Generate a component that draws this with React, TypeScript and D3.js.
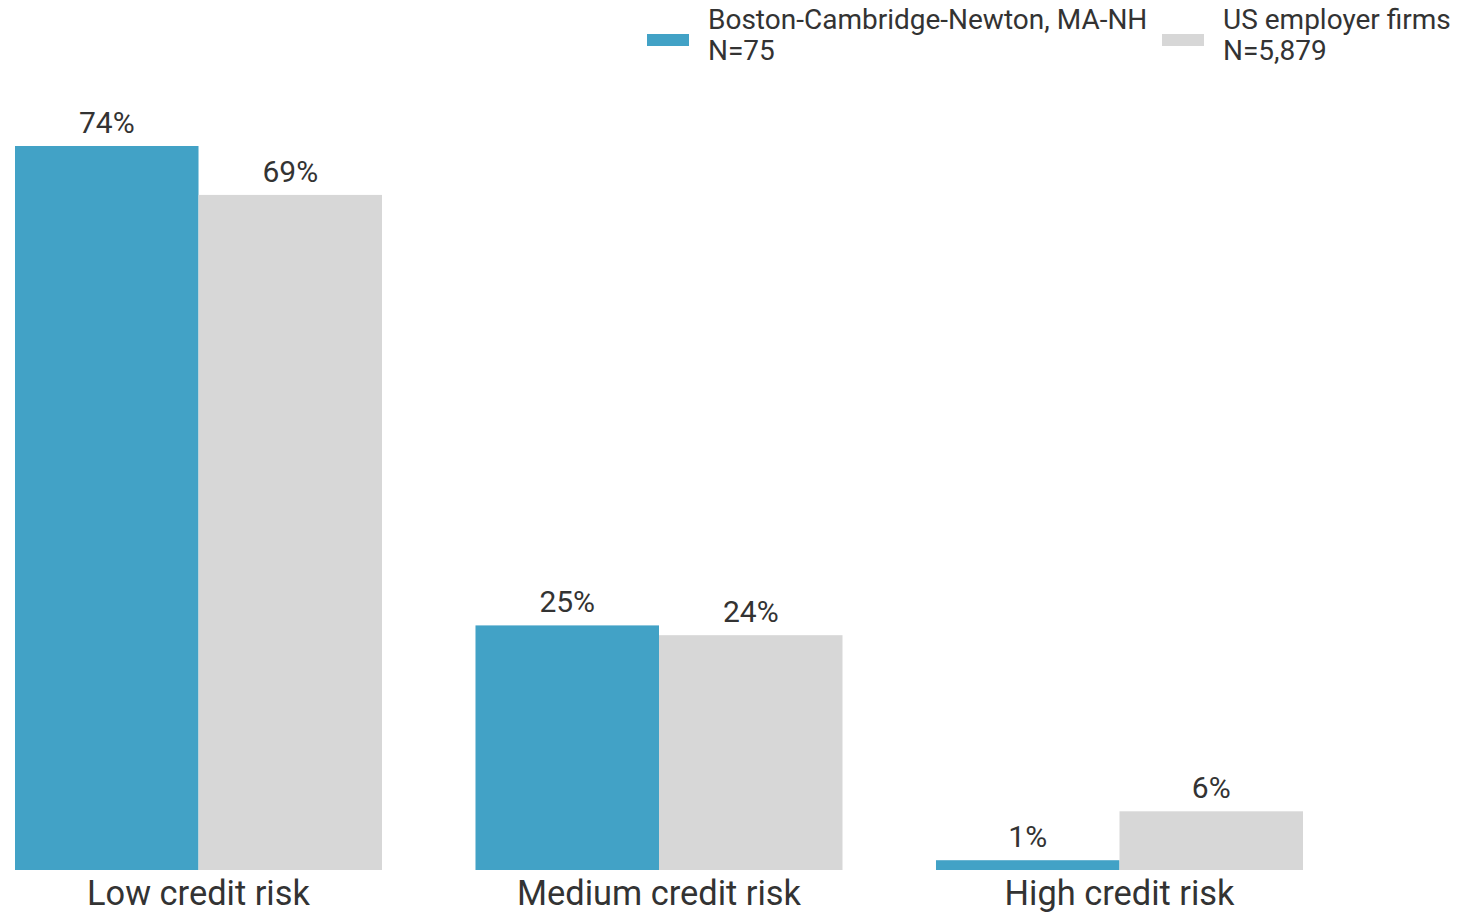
import React from "react";
import * as d3 from "d3";

const categories = ["Low credit risk", "Medium credit risk", "High credit risk"];
const seriesNames = ["Boston-Cambridge-Newton, MA-NH", "US employer firms"];
const seriesN = ["N=75", "N=5,879"];
const bostonValues = [74, 25, 1];
const usValues = [69, 24, 6];
const colors = ["#42A2C6", "#D7D7D7"];

const W = 1460;
const H = 914;
const FONT = "Roboto, 'Noto Sans', sans-serif";
const TEXT = "#333333";

export default function App() {
  const x0 = d3.scaleBand<string>().domain(categories).range([15, 1303]).paddingInner(0.203).paddingOuter(0);
  const x1 = d3.scaleBand<number>().domain([0, 1]).range([0, x0.bandwidth()]).padding(0);
  const y = d3.scaleLinear().domain([0, 74]).range([870, 146]);
  const series = [bostonValues, usValues];

  const legendX = [647, 1162];

  return (
    <div style={{ position: "absolute", left: 0, top: 0 }}>
      <svg width={W} height={H} style={{ display: "block", background: "#fff" }}>
        {categories.map((c, i) => (
          <g key={c}>
            {series.map((vals, s) => {
              const bx = (x0(c) as number) + (x1(s) as number);
              const bw = x1.bandwidth();
              const v = vals[i];
              return (
                <g key={s}>
                  <rect x={bx} y={y(v)} width={bw} height={y(0) - y(v)} fill={colors[s]} />
                  <text
                    x={bx + bw / 2}
                    y={y(v) - 13}
                    textAnchor="middle"
                    fontFamily={FONT}
                    fontSize={30}
                    fill={TEXT}
                  >
                    {d3.format("d")(v)}%
                  </text>
                </g>
              );
            })}
            <text
              x={(x0(c) as number) + x0.bandwidth() / 2}
              y={905}
              textAnchor="middle"
              fontFamily={FONT}
              fontSize={34.4}
              fill={TEXT}
            >
              {c}
            </text>
          </g>
        ))}
        {seriesNames.map((n, s) => (
          <g key={n}>
            <rect x={legendX[s]} y={34} width={42} height={12} fill={colors[s]} />
            <text x={legendX[s] + 61} y={29} fontFamily={FONT} fontSize={28} fill={TEXT}>
              {n}
            </text>
            <text x={legendX[s] + 61} y={60} fontFamily={FONT} fontSize={28} fill={TEXT}>
              {seriesN[s]}
            </text>
          </g>
        ))}
      </svg>
    </div>
  );
}
